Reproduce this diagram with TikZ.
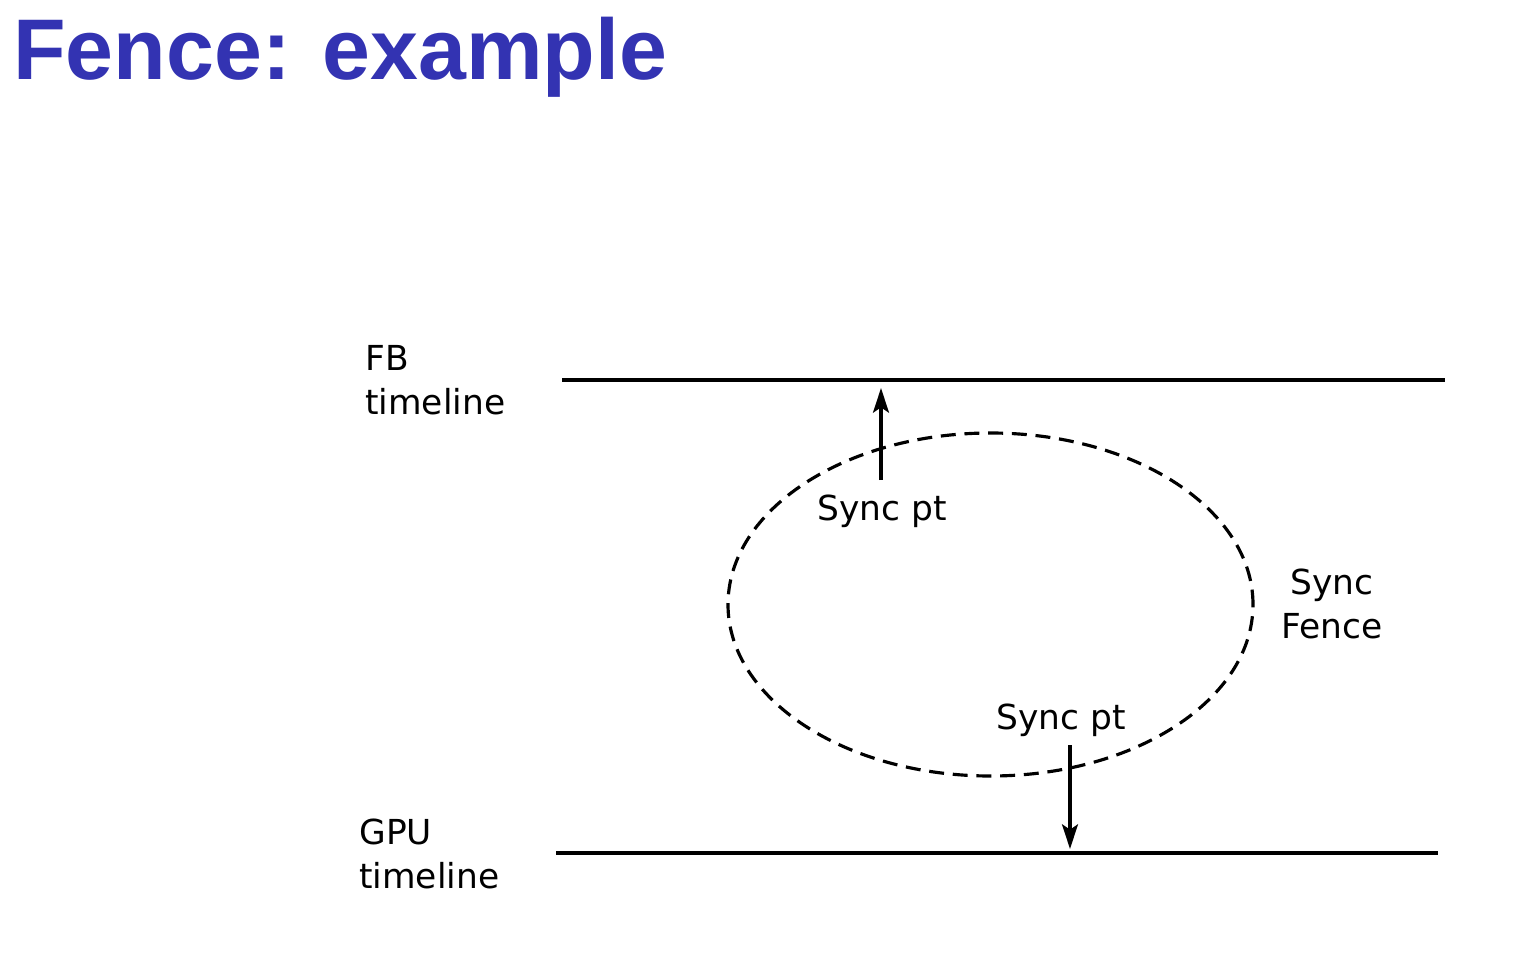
\documentclass[tikz,border=0pt]{standalone}
\usepackage{fontspec}
\setmainfont{DejaVu Sans}
\newfontfamily\titlefont{Liberation Sans}
\usetikzlibrary{positioning,arrows.meta,shapes.geometric}
\definecolor{titleblue}{HTML}{3333B2}

\begin{document}
\begin{tikzpicture}[x=0.02cm, y=-0.02cm,
    lbl/.style={font=\fontsize{19.6}{25}\selectfont, inner sep=0pt, align=left},
    timeline/.style={line width=2.5pt},
    syncarrow/.style={line width=2.1pt, -{Stealth[length=14pt, width=9pt, inset=3pt]}}]
    \useasboundingbox (0,0) rectangle (1536,980);

    \node [anchor=base west, inner sep=0pt, text=titleblue, font=\titlefont\bfseries\fontsize{49}{59}\selectfont] (title) at (13,80) {Fence: example};

    % timelines
    \coordinate (fbstart) at (562,380);
    \coordinate (fbend) at (1445,380);
    \coordinate (gpustart) at (556,853);
    \coordinate (gpuend) at (1438,853);
    \draw [timeline] (fbstart) -- (fbend);
    \draw [timeline] (gpustart) -- (gpuend);
    \node [lbl, anchor=base west] (fblabel) at (365,414) {FB\\timeline};
    \node [lbl, anchor=base west] (gpulabel) at (359,888) {GPU\\timeline};

    % fence
    \node [draw, line width=1.8pt, dash pattern=on 8.5pt off 5pt, ellipse, minimum width=525*0.02cm, minimum height=343*0.02cm, inner sep=0pt] (fence) at (990.5,604.5) {};
    \node [lbl, anchor=base, align=center] (fencelabel) at (1332,638) {Sync\\Fence};

    % sync points
    \coordinate (fbpt) at (881,480);
    \coordinate (fbtip) at (881,388);
    \coordinate (gpupt) at (1070,745);
    \coordinate (gputip) at (1070,849);
    \draw [syncarrow] (fbpt) -- (fbtip);
    \draw [syncarrow] (gpupt) -- (gputip);
    \node [lbl, anchor=base west] (fbsync) at (817,520) {Sync pt};
    \node [lbl, anchor=base west] (gpusync) at (996,729) {Sync pt};
\end{tikzpicture}
\end{document}
